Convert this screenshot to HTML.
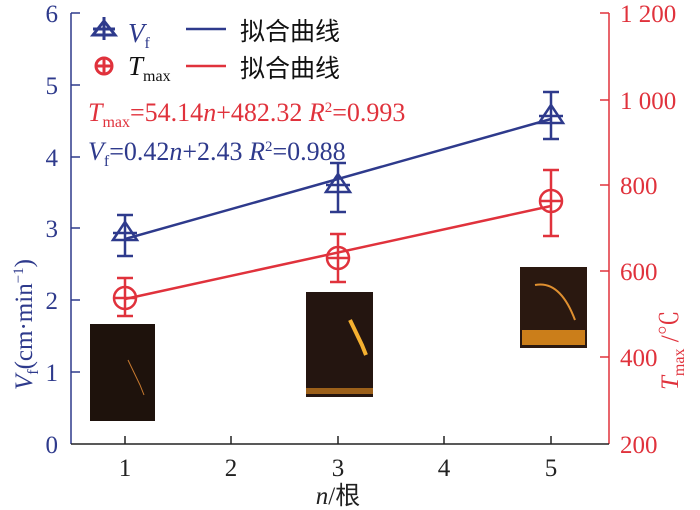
<!DOCTYPE html>
<html><head><meta charset="utf-8"><style>
body{margin:0;background:#fff;width:700px;height:510px;overflow:hidden}
svg{display:block}
text{font-family:"Liberation Serif","Noto Serif CJK SC",serif}
.cj{font-family:"Liberation Sans","Noto Sans CJK SC",sans-serif}
</style></head><body>
<svg width="700" height="510" viewBox="0 0 700 510">
<line x1="71" y1="13" x2="71" y2="444" stroke="#2e3a8c" stroke-width="1.5"/>
<line x1="609" y1="13" x2="609" y2="444" stroke="#e0323c" stroke-width="1.5"/>
<line x1="71" y1="444" x2="609" y2="444" stroke="#222" stroke-width="1.5"/>
<g stroke="#2e3a8c" stroke-width="1.5">
<line x1="71" y1="13" x2="80" y2="13"/><line x1="71" y1="85" x2="80" y2="85"/><line x1="71" y1="157" x2="80" y2="157"/><line x1="71" y1="228" x2="80" y2="228"/><line x1="71" y1="300" x2="80" y2="300"/><line x1="71" y1="372" x2="80" y2="372"/></g>
<g fill="#2e3a8c" font-size="25" text-anchor="end">
<text x="58" y="22">6</text><text x="58" y="94">5</text><text x="58" y="166">4</text><text x="58" y="237">3</text><text x="58" y="309">2</text><text x="58" y="381">1</text><text x="58" y="453">0</text></g>
<g stroke="#e0323c" stroke-width="1.5">
<line x1="600" y1="13" x2="609" y2="13"/><line x1="600" y1="100" x2="609" y2="100"/><line x1="600" y1="185" x2="609" y2="185"/><line x1="600" y1="271" x2="609" y2="271"/><line x1="600" y1="357" x2="609" y2="357"/></g>
<g fill="#e0323c" font-size="25">
<text x="620" y="22">1 200</text><text x="620" y="109">1 000</text><text x="620" y="194">800</text><text x="620" y="280">600</text><text x="620" y="366">400</text><text x="620" y="453">200</text></g>
<g stroke="#222" stroke-width="1.5">
<line x1="125" y1="444" x2="125" y2="436"/><line x1="231" y1="444" x2="231" y2="436"/><line x1="338" y1="444" x2="338" y2="436"/><line x1="444" y1="444" x2="444" y2="436"/><line x1="551" y1="444" x2="551" y2="436"/></g>
<g fill="#222" font-size="25" text-anchor="middle">
<text x="125" y="476">1</text><text x="231" y="476">2</text><text x="338" y="476">3</text><text x="444" y="476">4</text><text x="551" y="476">5</text></g>
<text x="338" y="504" font-size="25" text-anchor="middle" fill="#222"><tspan font-style="italic">n</tspan>/<tspan class="cj">根</tspan></text>
<text transform="translate(32,390) rotate(-90)" font-size="25" fill="#2e3a8c"><tspan font-style="italic">V</tspan><tspan font-size="16" dy="6">f</tspan><tspan dy="-6">(cm·min</tspan><tspan font-size="15" dy="-9">−1</tspan><tspan dy="9">)</tspan></text>
<text transform="translate(678,390) rotate(-90)" font-size="25" fill="#e0323c"><tspan font-style="italic">T</tspan><tspan font-size="16" dy="6">max</tspan><tspan dy="-6"> /℃</tspan></text>
<rect x="90" y="324" width="65" height="97" fill="#1e120c"/>
<path d="M128 360 L140 385 L144 395" stroke="#c87a30" stroke-width="1" fill="none"/>
<rect x="306" y="292" width="67" height="105" fill="#241510"/>
<path d="M350 320 L362 345 L366 355" stroke="#f5b030" stroke-width="4" fill="none"/>
<rect x="306" y="388" width="67" height="6" fill="#d08020" opacity="0.7"/>
<rect x="520" y="267" width="67" height="81" fill="#2a1810"/>
<path d="M535 285 Q560 280 575 320" stroke="#e09030" stroke-width="2" fill="none"/>
<rect x="522" y="330" width="63" height="15" fill="#e8901c" opacity="0.85"/>
<line x1="125" y1="239" x2="551" y2="119" stroke="#2e3a8c" stroke-width="2.5"/>
<line x1="125" y1="299" x2="551" y2="206" stroke="#e0323c" stroke-width="2.5"/>
<g stroke="#2e3a8c" stroke-width="2.5" fill="none">
<path d="M125 215V256M117 215H133M117 256H133"/>
<path d="M338 163V212M330 163H346M330 212H346"/>
<path d="M551 92V139M543 92H559M543 139H559"/>
<path d="M113 240L125 222L137 240Z M113 233H137"/>
<path d="M326 192L338 174L350 192Z M326 185H350"/>
<path d="M539 123L551 105L563 123Z M539 116H563"/>
</g>
<g stroke="#e0323c" stroke-width="2.5" fill="none">
<path d="M125 278V316M117 278H133M117 316H133"/>
<path d="M338 234V282M330 234H346M330 282H346"/>
<path d="M551 170V236M543 170H559M543 236H559"/>
<circle cx="125" cy="298" r="11"/><path d="M114 298H136"/>
<circle cx="338" cy="258" r="11"/><path d="M327 258H349"/>
<circle cx="551" cy="201" r="11"/><path d="M540 201H562"/>
</g>
<g stroke="#2e3a8c" stroke-width="3" fill="none"><path d="M93 35L104 21L115 35Z M93 29H115 M104 17V40"/></g>
<text x="128" y="42" font-size="27" font-style="italic" fill="#2e3a8c">V<tspan font-size="16" font-style="normal" dy="6">f</tspan></text>
<line x1="186" y1="29" x2="226" y2="29" stroke="#2e3a8c" stroke-width="2.5"/>
<text x="240" y="40" font-size="25" class="cj" fill="#111">拟合曲线</text>
<g stroke="#e0323c" stroke-width="3" fill="none"><circle cx="104" cy="66" r="8"/><path d="M96 66H112M104 58V74"/></g>
<text x="128" y="75" font-size="27" font-style="italic" fill="#111">T<tspan font-size="16" font-style="normal" dy="6">max</tspan></text>
<line x1="186" y1="66" x2="226" y2="66" stroke="#e0323c" stroke-width="2.5"/>
<text x="240" y="77" font-size="25" class="cj" fill="#111">拟合曲线</text>
<text x="88" y="121" font-size="26" fill="#e0323c"><tspan font-style="italic">T</tspan><tspan font-size="16" dy="6">max</tspan><tspan dy="-6">=54.14</tspan><tspan font-style="italic">n</tspan>+482.32  <tspan font-style="italic">R</tspan><tspan font-size="15" dy="-9">2</tspan><tspan dy="9">=0.993</tspan></text>
<text x="88" y="160" font-size="26" fill="#2e3a8c"><tspan font-style="italic">V</tspan><tspan font-size="16" dy="6">f</tspan><tspan dy="-6">=0.42</tspan><tspan font-style="italic">n</tspan>+2.43  <tspan font-style="italic">R</tspan><tspan font-size="15" dy="-9">2</tspan><tspan dy="9">=0.988</tspan></text>
</svg>
</body></html>
